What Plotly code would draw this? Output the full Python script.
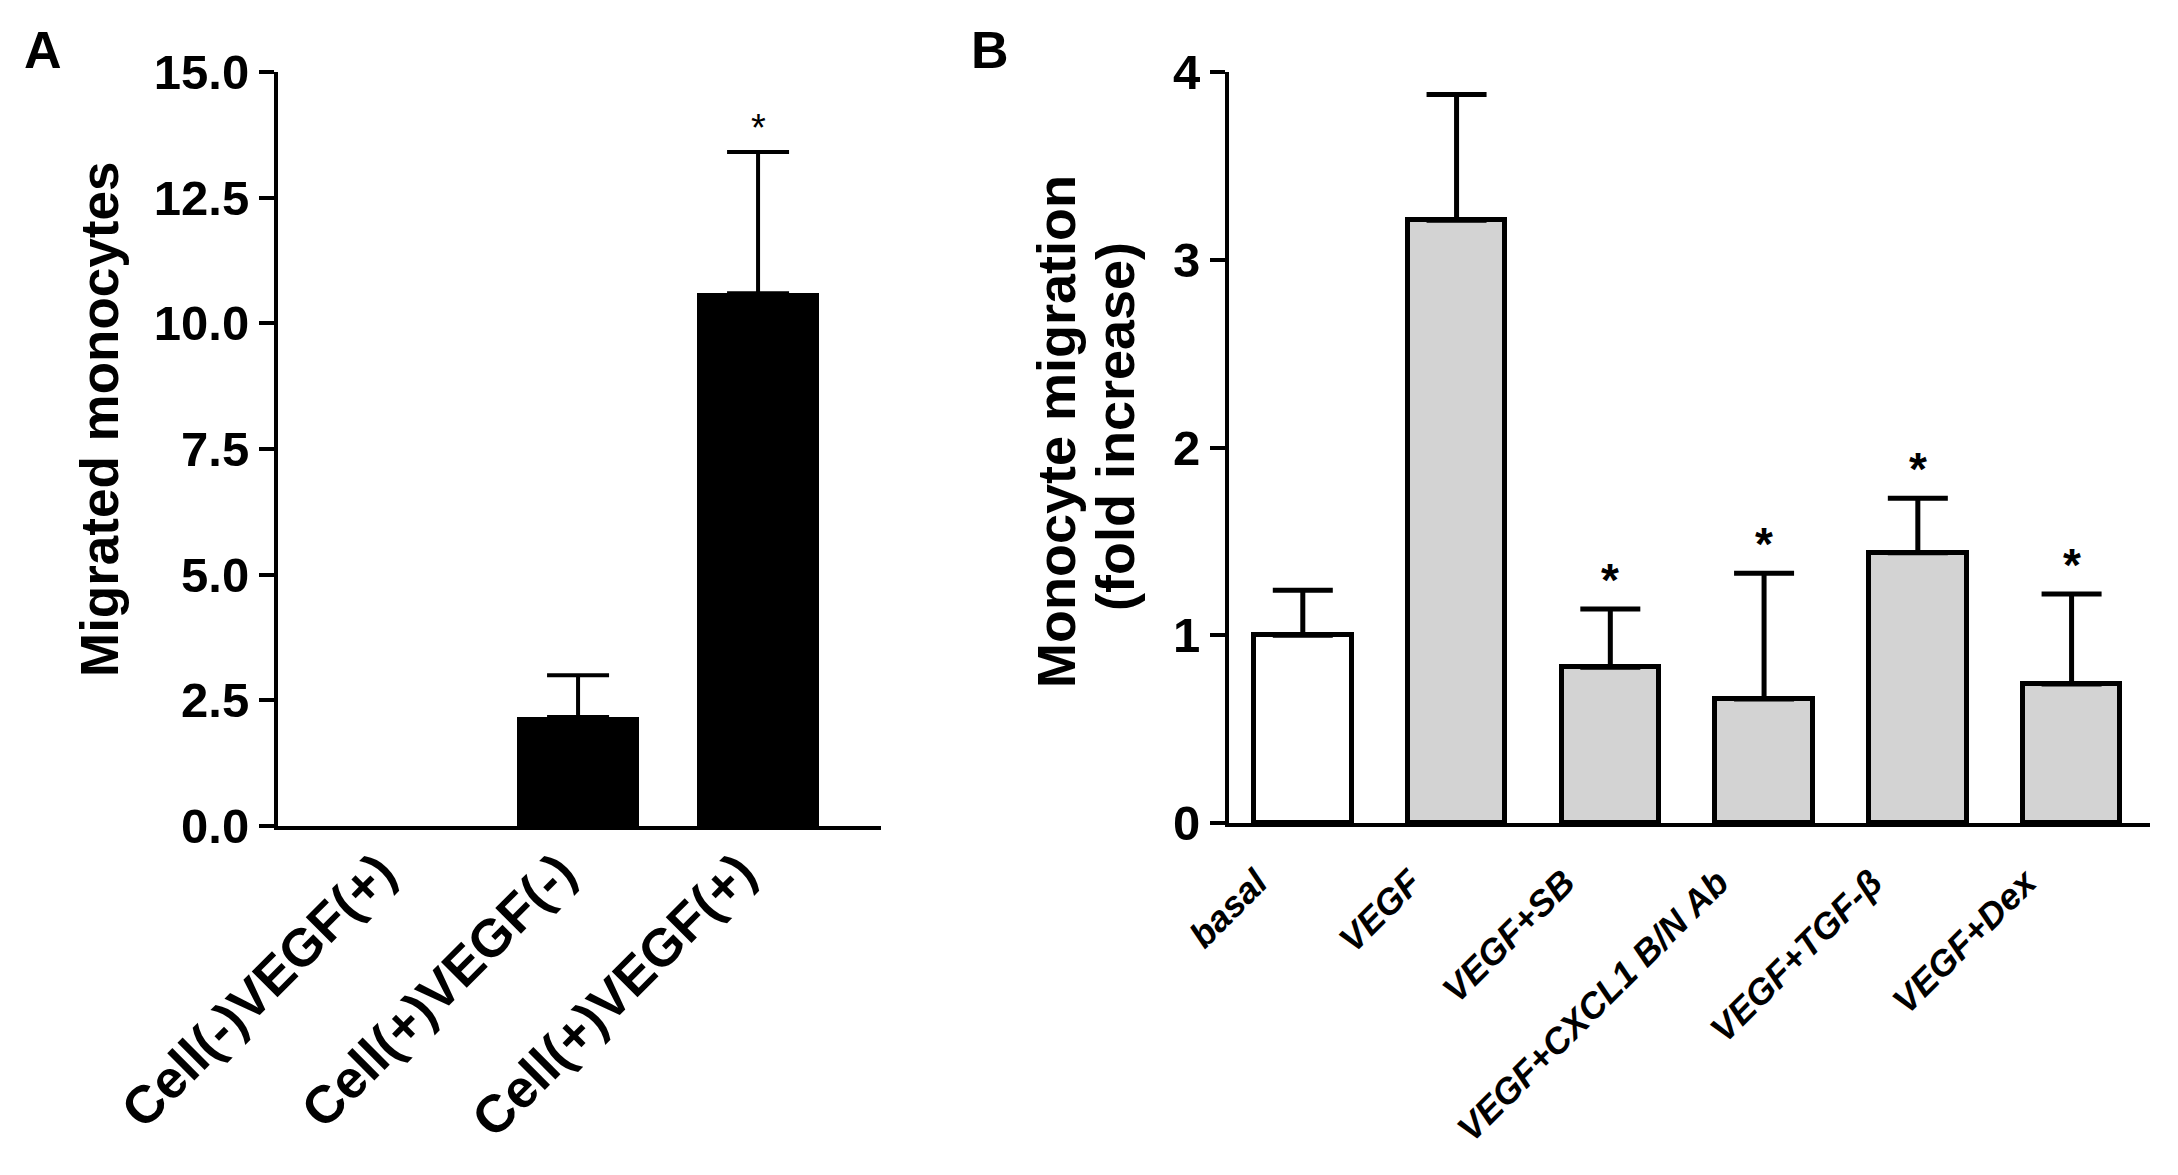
import numpy as np
import plotly.graph_objects as go

# ---- Panel A data ----
a_categories = ["Cell(-)VEGF(+)", "Cell(+)VEGF(-)", "Cell(+)VEGF(+)"]
a_means = [0.0, 2.17, 10.6]
a_upper = [None, 3.0, 13.41]          # top of error bar (None = no error bar)
a_sig = [False, False, True]
a_ticks = [0.0, 2.5, 5.0, 7.5, 10.0, 12.5, 15.0]
a_ticklabels = ["0.0", "2.5", "5.0", "7.5", "10.0", "12.5", "15.0"]

# ---- Panel B data ----
b_categories = ["basal", "VEGF", "VEGF+SB", "VEGF+CXCL1 B/N Ab", "VEGF+TGF-β", "VEGF+Dex"]
b_means = [1.0, 3.21, 0.83, 0.66, 1.44, 0.74]
b_upper = [1.24, 3.88, 1.14, 1.33, 1.73, 1.22]
b_sig = [False, False, True, True, True, True]
b_colors = ["#ffffff", "#d3d3d3", "#d3d3d3", "#d3d3d3", "#d3d3d3", "#d3d3d3"]
b_ticks = [0, 1, 2, 3, 4]

FONT = "Liberation Sans, Arial, sans-serif"
W, H = 2178, 1175
OFF = 8  # page body offset


def px(x):
    return (x - OFF) / W


def py(y):
    return 1 - (y - OFF) / H


fig = go.Figure()

a_x = list(range(len(a_categories)))
fig.add_trace(go.Bar(
    x=a_x, y=a_means, width=0.68,
    marker=dict(color="black", line=dict(color="black", width=0)),
    xaxis="x", yaxis="y", showlegend=False,
))
ex = [x for x, u in zip(a_x, a_upper) if u is not None]
ey = [m for m, u in zip(a_means, a_upper) if u is not None]
ee = [u - m for m, u in zip(a_means, a_upper) if u is not None]
fig.add_trace(go.Scatter(
    x=ex, y=ey, mode="markers", marker=dict(size=0.1, color="black", opacity=0),
    error_y=dict(type="data", array=ee, arrayminus=[0] * len(ee), symmetric=False,
                 color="black", thickness=4, width=31),
    xaxis="x", yaxis="y", showlegend=False, hoverinfo="skip",
))

b_x = list(range(len(b_categories)))
b_err = [u - m for u, m in zip(b_upper, b_means)]
fig.add_trace(go.Bar(
    x=b_x, y=b_means, width=0.635,
    marker=dict(color=b_colors, line=dict(color="black", width=5)),
    error_y=dict(type="data", array=b_err, arrayminus=[0] * len(b_err), symmetric=False,
                 color="black", thickness=5, width=30),
    xaxis="x2", yaxis="y2", showlegend=False,
))

annotations = []
for i, (u, s) in enumerate(zip(a_upper, a_sig)):
    if s:
        annotations.append(dict(x=i, y=u, xref="x", yref="y", text="*", showarrow=False,
                                yanchor="bottom", yshift=1,
                                font=dict(family=FONT, size=38, color="black")))
for i, (u, s) in enumerate(zip(b_upper, b_sig)):
    if s:
        annotations.append(dict(x=i, y=u, xref="x2", yref="y2", text="<b>*</b>", showarrow=False,
                                yanchor="bottom", yshift=1,
                                font=dict(family=FONT, size=46, color="black")))

# panel letters and axis titles
annotations += [
    dict(x=px(43), y=py(50), xref="paper", yref="paper", text="<b>A</b>", showarrow=False,
         xanchor="center", yanchor="middle", font=dict(family=FONT, size=52, color="black")),
    dict(x=px(990), y=py(50), xref="paper", yref="paper", text="<b>B</b>", showarrow=False,
         xanchor="center", yanchor="middle", font=dict(family=FONT, size=52, color="black")),
    dict(x=px(100), y=py(420), xref="paper", yref="paper", text="<b>Migrated monocytes</b>",
         textangle=-90, showarrow=False, xanchor="center", yanchor="middle",
         font=dict(family=FONT, size=53, color="black")),
    dict(x=px(1056), y=py(432), xref="paper", yref="paper", text="<b>Monocyte migration</b>",
         textangle=-90, showarrow=False, xanchor="center", yanchor="middle",
         font=dict(family=FONT, size=54, color="black")),
    dict(x=px(1115), y=py(427), xref="paper", yref="paper", text="<b>(fold increase)</b>",
         textangle=-90, showarrow=False, xanchor="center", yanchor="middle",
         font=dict(family=FONT, size=54, color="black")),
]

axis_common = dict(showline=True, linecolor="black", linewidth=4, showgrid=False, zeroline=False,
                   mirror=False, automargin=False)

fig.update_layout(
    template="none",
    width=W, height=H,
    margin=dict(l=0, r=0, t=0, b=0, pad=0),
    paper_bgcolor="white", plot_bgcolor="white",
    bargap=0,
    xaxis=dict(domain=[px(278), px(881)], range=[-0.667, 2.683],
               tickmode="array", tickvals=a_x, ticktext=[f"<b>{c}</b>" for c in a_categories],
               tickangle=-45, ticks="", tickfont=dict(family=FONT, size=53, color="black"),
               ticklabelshift=-18, ticklabelstandoff=-10,
               anchor="y", **axis_common),
    yaxis=dict(domain=[py(826), py(72)], range=[0, 15],
               tickmode="array", tickvals=a_ticks, ticktext=[f"<b>{t}</b>" for t in a_ticklabels],
               ticks="outside", ticklen=15, tickwidth=4, tickcolor="black",
               tickfont=dict(family=FONT, size=49, color="black"),
               anchor="x", **axis_common),
    xaxis2=dict(domain=[px(1229), px(2150)], range=[-0.48, 5.51],
                tickmode="array", tickvals=b_x,
                ticktext=[f"<b><i>{c}</i></b>" for c in b_categories],
                tickangle=-45, ticks="", tickfont=dict(family=FONT, size=36, color="black"),
                ticklabelshift=-46, ticklabelstandoff=20,
                anchor="y2", **axis_common),
    yaxis2=dict(domain=[py(823), py(72)], range=[0, 4],
                tickmode="array", tickvals=b_ticks, ticktext=[f"<b>{t}</b>" for t in b_ticks],
                ticks="outside", ticklen=15, tickwidth=4, tickcolor="black",
                tickfont=dict(family=FONT, size=49, color="black"),
                anchor="x2", **axis_common),
    annotations=annotations,
)

fig.write_html("out.html")
